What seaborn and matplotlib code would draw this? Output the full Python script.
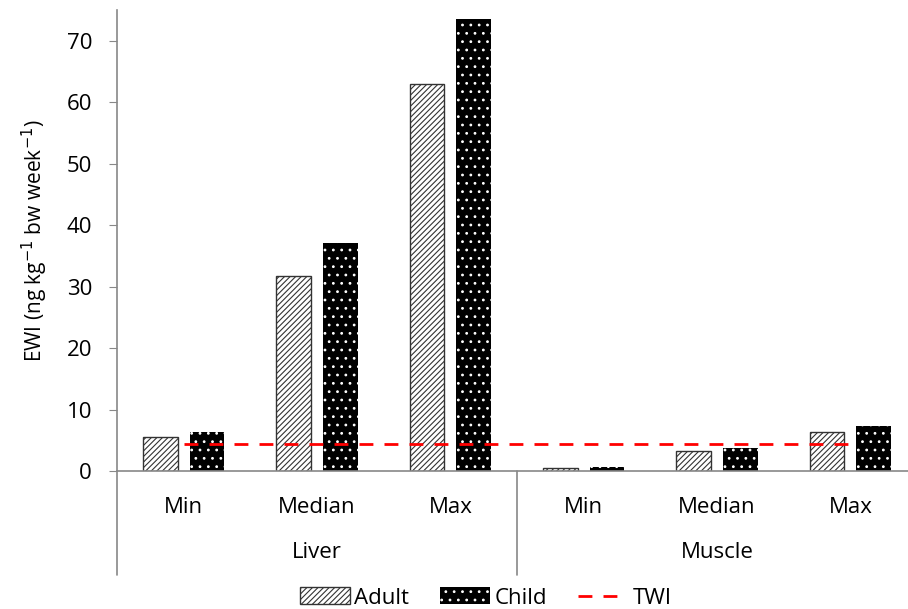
import pandas as pd
import matplotlib.pyplot as plt
import seaborn as sns
from matplotlib.patches import Patch
from matplotlib.lines import Line2D

# data
tissues = ["Liver", "Muscle"]
stats = ["Min", "Median", "Max"]
adult = [5.5, 31.8, 63.0, 0.5, 3.2, 6.3]
child = [6.4, 37.1, 73.6, 0.7, 3.7, 7.3]
twi = 4.4

cats = [f"{t}-{s}" for t in tissues for s in stats]
df = pd.DataFrame({
    "cat": cats * 2,
    "group": ["Adult"] * 6 + ["Child"] * 6,
    "EWI": adult + child,
})

sns.set_style("white")
plt.rcParams["font.family"] = ["Open Sans", "DejaVu Sans"]
plt.rcParams["hatch.linewidth"] = 0.8
plt.rcParams["text.color"] = "black"
plt.rcParams["axes.labelcolor"] = "black"

fig = plt.figure(figsize=(9.08, 6.09), dpi=100)
ax = fig.add_axes([117 / 908, 1 - 471 / 609, 800 / 908, 461 / 609])

sns.barplot(data=df, x="cat", y="EWI", hue="group", order=cats,
            hue_order=["Adult", "Child"], palette=["white", "black"],
            width=0.7, gap=0.26, edgecolor="black", linewidth=1,
            legend=False, ax=ax)

n = len(cats)
for i, bar in enumerate(ax.patches[:2 * n]):
    if i < n:
        bar.set_hatch("//////")
        bar.set_edgecolor("#333333")
    else:
        bar.set_hatch("..")
        bar.set_edgecolor("white")
        bar.set_linewidth(0)

ax.plot(range(n), [twi] * n, color="red", ls=(0, (5, 4)), lw=2, zorder=5)

ax.set_ylim(0, 75)
ax.set_xlim(-0.5, n - 0.5)
ax.set_yticks(range(0, 71, 10))
ax.tick_params(axis="y", labelsize=16, length=6, color="#888888",
               labelcolor="black", direction="out", left=True, pad=12)
ax.set_xticks(range(n))
ax.set_xticklabels(stats * 2, fontsize=16, color="black")
ax.tick_params(axis="x", length=0, pad=19)
ax.set_ylabel("EWI (ng kg$^{-1}$ bw week$^{-1}$)", fontsize=15, labelpad=12)
ax.set_xlabel("")

for s in ["top", "right"]:
    ax.spines[s].set_visible(False)
for s in ["left", "bottom"]:
    ax.spines[s].set_color("#888888")
    ax.spines[s].set_linewidth(1.2)

# group separators and group labels
trans = ax.get_xaxis_transform()
for xv in [-0.5, 2.5]:
    ax.plot([xv, xv], [0, -104 / 461], transform=trans, color="#888888",
            lw=1.2, clip_on=False)
for i, t in enumerate(tissues):
    ax.text(1 + 3 * i, -82 / 461, t, transform=trans, ha="center",
            va="center", fontsize=16)

handles = [
    Patch(facecolor="white", edgecolor="#333333", hatch="//////", label="Adult"),
    Patch(facecolor="black", edgecolor="white", hatch="..", lw=0, label="Child"),
    Line2D([0], [0], color="red", ls=(0, (5, 4)), lw=2, label="TWI"),
]
fig.legend(handles=handles, loc="center", bbox_to_anchor=(0.535, 0.018),
           ncol=3, frameon=False, fontsize=16, handlelength=2.25,
           handleheight=0.8, columnspacing=1.4, handletextpad=0.2)

fig.savefig("out.png", dpi=100)
